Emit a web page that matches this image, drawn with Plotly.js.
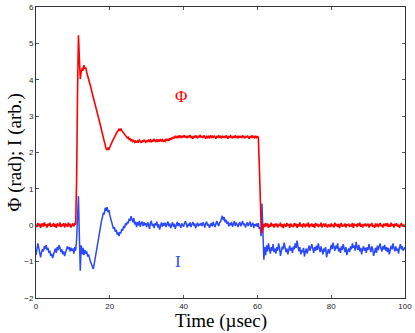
<!DOCTYPE html>
<html>
<head>
<meta charset="utf-8">
<script src="https://cdn.plot.ly/plotly-3.0.1.min.js"></script>
<style>
  html, body { margin: 0; padding: 0; background: #fff; }
  #plot { width: 415px; height: 333px; }
</style>
</head>
<body>
<div id="plot"></div>
<script>
// sampling of both traces: t = 0 .. 100 usec, every 0.25 usec
const t0 = 0;
const dt = 0.25;

// phase, rad (one line = 5 usec)
const phi = [
  0.02,-0.05,0.06,-0.03,0.04,-0.07,0.01,0.05,-0.04,0.08,-0.02,0.03,-0.06,0.04,-0.01,0.07,-0.05,0.02,-0.03,0.06,
  -0.04,0.03,-0.07,0.05,0.0,-0.03,0.08,-0.05,0.02,-0.02,0.06,-0.06,0.03,0.01,-0.04,0.07,-0.03,0.04,-0.06,0.02,
  0.05,-0.03,0.04,0.02,1.2,3.6,5.22,4.6,4.02,4.22,4.3,4.28,4.4,4.3,4.34,4.2,4.12,4.02,3.95,3.83,
  3.74,3.62,3.55,3.43,3.33,3.24,3.12,3.04,2.92,2.83,2.73,2.62,2.52,2.4,2.28,2.17,2.1,2.08,2.12,2.09,
  2.16,2.22,2.27,2.32,2.37,2.43,2.48,2.53,2.57,2.6,2.64,2.61,2.66,2.6,2.58,2.54,2.5,2.47,2.44,2.4,
  2.42,2.36,2.38,2.32,2.35,2.3,2.33,2.28,2.31,2.27,2.32,2.29,2.34,2.3,2.27,2.33,2.29,2.35,2.31,2.28,
  2.33,2.29,2.36,2.31,2.34,2.28,2.35,2.3,2.37,2.32,2.29,2.36,2.31,2.34,2.3,2.37,2.32,2.35,2.29,2.34,
  2.31,2.37,2.33,2.36,2.32,2.39,2.35,2.41,2.37,2.43,2.39,2.46,2.41,2.44,2.4,2.47,2.42,2.45,2.4,2.46,
  2.42,2.47,2.41,2.45,2.39,2.46,2.42,2.48,2.4,2.44,2.38,2.45,2.41,2.47,2.43,2.39,2.46,2.42,2.48,2.41,
  2.45,2.4,2.47,2.43,2.38,2.46,2.41,2.44,2.39,2.47,2.42,2.45,2.4,2.46,2.43,2.38,2.45,2.41,2.47,2.42,
  2.44,2.39,2.46,2.41,2.45,2.4,2.47,2.42,2.38,2.45,2.41,2.46,2.43,2.39,2.45,2.4,2.47,2.42,2.44,2.39,
  2.46,2.41,2.45,2.4,2.47,2.43,2.39,2.45,2.41,2.46,2.42,2.38,2.45,2.4,2.47,2.42,2.44,2.39,2.46,2.41,
  2.44,2.42,1.7,0.8,0.05,-0.22,-0.08,0.04,-0.05,0.06,-0.03,0.05,-0.07,0.02,-0.04,0.07,-0.02,0.03,-0.06,0.04,
  -0.03,0.05,-0.06,0.02,-0.01,0.07,-0.05,0.03,-0.08,0.04,0.0,-0.04,0.06,-0.02,0.03,-0.07,0.05,-0.03,0.01,-0.05,
  0.06,-0.02,0.04,-0.07,0.03,-0.04,0.08,-0.03,0.02,-0.06,0.05,-0.01,-0.05,0.04,-0.03,0.07,-0.06,0.02,-0.02,0.05,
  -0.04,0.03,-0.07,0.06,-0.01,0.04,-0.05,0.02,-0.03,0.07,-0.06,0.01,0.04,-0.04,0.05,-0.02,-0.06,0.03,0.0,-0.05,
  0.05,-0.03,0.02,-0.06,0.07,-0.02,0.03,-0.05,0.04,-0.08,0.02,0.06,-0.04,0.01,-0.03,0.05,-0.06,0.03,-0.01,0.04,
  -0.05,0.02,-0.03,0.06,-0.07,0.04,-0.01,0.03,-0.05,0.05,-0.02,0.07,-0.04,0.02,-0.06,0.03,-0.02,0.05,-0.03,0.01,
  0.04,-0.06,0.03,-0.02,0.06,-0.04,0.01,-0.07,0.05,-0.03,0.04,-0.05,0.02,0.06,-0.03,0.01,-0.06,0.04,-0.02,0.05,
  -0.03,0.06,-0.05,0.02,-0.04,0.07,-0.02,0.03,-0.06,0.04,-0.01,0.05,-0.04,0.02,-0.07,0.03,0.06,-0.03,0.02,-0.05,
  0.02
];

// current, arb. units
const cur = [
  -0.82,-0.6,-0.5,-0.62,-0.78,-0.88,-0.74,-0.66,-0.72,-0.58,-0.65,-0.55,-0.68,-0.62,-0.76,-0.7,-0.84,-0.78,-0.9,-0.8,
  -0.72,-0.64,-0.76,-0.6,-0.68,-0.55,-0.62,-0.74,-0.66,-0.8,-0.72,-0.85,-0.76,-0.68,-0.58,-0.66,-0.6,-0.72,-0.62,-0.7,
  -0.64,-0.78,-0.6,-0.7,-0.4,0.2,0.8,-0.3,-1.25,-0.55,-0.8,-0.62,-0.82,-0.68,-0.78,-0.72,-0.86,-0.8,-0.96,-1.0,
  -1.05,-1.15,-1.2,-1.08,-0.92,-0.78,-0.6,-0.45,-0.3,-0.15,-0.02,0.12,0.22,0.35,0.3,0.48,0.4,0.5,0.36,0.42,
  0.28,0.2,0.08,0.0,-0.1,-0.05,-0.18,-0.12,-0.26,-0.2,-0.3,-0.18,-0.22,-0.1,-0.15,-0.02,-0.08,0.05,0.0,0.1,
  0.05,0.18,0.12,0.25,0.15,0.08,0.2,0.02,0.1,-0.05,0.08,0.0,0.12,-0.04,0.06,0.1,-0.02,0.08,0.0,0.05,
  -0.05,0.08,0.02,-0.1,0.06,0.12,-0.02,0.04,-0.08,0.05,0.0,0.1,-0.06,0.03,-0.12,0.02,0.08,-0.04,0.06,-0.01,
  0.07,-0.05,0.02,0.1,-0.03,0.05,-0.08,0.01,0.08,-0.04,0.04,-0.1,0.03,0.09,-0.02,0.06,0.0,-0.07,0.05,0.02,
  -0.04,0.06,0.11,0.02,-0.06,0.04,-0.02,0.08,-0.05,0.03,0.09,-0.01,0.05,-0.08,0.02,0.07,-0.03,0.04,0.0,0.06,
  -0.02,0.08,0.03,-0.06,0.05,0.1,-0.01,0.04,-0.07,0.02,0.06,-0.03,0.09,0.01,-0.05,0.04,0.12,0.03,-0.02,0.07,
  0.1,0.18,0.26,0.14,0.22,0.08,0.15,0.04,0.1,-0.03,0.06,0.0,0.09,-0.04,0.05,0.11,-0.02,0.07,0.02,-0.05,
  0.04,0.09,-0.03,0.06,0.12,0.0,0.05,-0.06,0.03,0.08,-0.02,0.06,0.1,-0.04,0.02,0.07,-0.08,0.03,-0.02,0.05,
  -0.04,0.06,-0.1,-0.05,-0.3,0.6,-0.2,-0.95,-0.6,-0.82,-0.55,-0.72,-0.5,-0.66,-0.78,-0.6,-0.7,-0.52,-0.74,-0.64,
  -0.78,-0.6,-0.7,-0.5,-0.62,-0.84,-0.7,-0.58,-0.66,-0.48,-0.6,-0.74,-0.64,-0.8,-0.68,-0.56,-0.7,-0.62,-0.76,-0.58,
  -0.66,-0.5,-0.62,-0.42,-0.58,-0.72,-0.6,-0.8,-0.68,-0.74,-0.62,-0.86,-0.72,-0.64,-0.78,-0.66,-0.56,-0.7,-0.6,-0.52,
  -0.64,-0.76,-0.6,-0.7,-0.56,-0.68,-0.5,-0.62,-0.74,-0.58,-0.7,-0.8,-0.64,-0.72,-0.6,-0.88,-0.74,-0.66,-0.78,-0.62,
  -0.54,-0.66,-0.48,-0.6,-0.7,-0.56,-0.64,-0.5,-0.72,-0.62,-0.76,-0.58,-0.68,-0.52,-0.64,-0.74,-0.6,-0.82,-0.7,-0.64,
  -0.74,-0.58,-0.66,-0.5,-0.62,-0.56,-0.7,-0.46,-0.6,-0.68,-0.54,-0.72,-0.62,-0.8,-0.66,-0.58,-0.7,-0.62,-0.76,-0.6,
  -0.68,-0.52,-0.64,-0.74,-0.58,-0.66,-0.84,-0.7,-0.62,-0.76,-0.56,-0.68,-0.6,-0.5,-0.64,-0.72,-0.58,-0.66,-0.54,-0.7,
  -0.6,-0.74,-0.62,-0.8,-0.68,-0.56,-0.66,-0.5,-0.62,-0.72,-0.58,-0.7,-0.64,-0.78,-0.6,-0.52,-0.66,-0.58,-0.7,-0.62,
  -0.6
];

// in-plot labels
const labelText = ["Φ", "I"];
const labelX = [39.2, 38.6];
const labelY = [3.55, -1.0];

const red = "#ff0000";
const blue = "#2a48ff";
const serif = "Liberation Serif, Times New Roman, serif";
const sans = "Liberation Sans, Arial, sans-serif";

const traces = [
  { x0: t0, dx: dt, y: cur, type: "scatter", mode: "lines",
    line: { color: blue, width: 1.5 }, name: "I" },
  { x0: t0, dx: dt, y: phi, type: "scatter", mode: "lines",
    line: { color: red, width: 1.6 }, name: "Φ" }
];

const axisCommon = {
  showgrid: false, zeroline: false,
  showline: true, linecolor: "#333", linewidth: 1, mirror: "ticks",
  ticks: "inside", ticklen: 3, tickcolor: "#555",
  tickfont: { family: sans, size: 8, color: "#222" }
};

// plot area in pixels: x 36..405, y 7..298
const plotW = 415 - 36 - 10;
const plotH = 333 - 7 - 35;

const layout = {
  width: 415, height: 333,
  margin: { l: 36, r: 10, t: 7, b: 35 },
  paper_bgcolor: "#fff", plot_bgcolor: "#fff",
  showlegend: false,
  xaxis: Object.assign({}, axisCommon, { range: [0, 100], tickvals: [0, 20, 40, 60, 80, 100] }),
  yaxis: Object.assign({}, axisCommon, { range: [-2, 6], tickvals: [-2, -1, 0, 1, 2, 3, 4, 5, 6] }),
  annotations: [
    { text: labelText[0], x: labelX[0], y: labelY[0], xref: "x", yref: "y", showarrow: false,
      font: { family: serif, size: 17, color: red } },
    { text: labelText[1], x: labelX[1], y: labelY[1], xref: "x", yref: "y", showarrow: false,
      font: { family: serif, size: 17, color: blue } },
    { text: "Time (µsec)", x: 0.5, y: (298 - 321) / plotH, xref: "paper", yref: "paper",
      xanchor: "center", yanchor: "middle",
      showarrow: false, font: { family: serif, size: 19, color: "#000" } },
    { text: "Φ (rad); I (arb.)", x: (14 - 36) / plotW, y: 0.5, xref: "paper", yref: "paper",
      xanchor: "center", yanchor: "middle", showarrow: false,
      textangle: -90, font: { family: serif, size: 19, color: "#000" } }
  ]
};

Plotly.newPlot("plot", traces, layout, { displayModeBar: false, staticPlot: true });
</script>
</body>
</html>
